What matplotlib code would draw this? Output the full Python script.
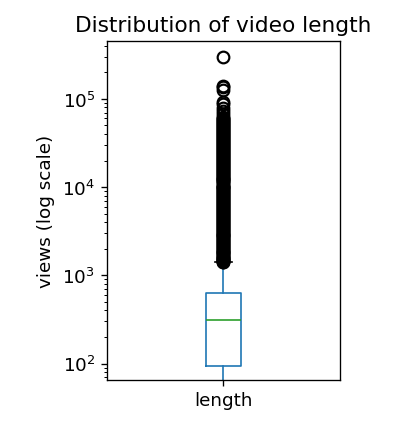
import matplotlib
matplotlib.use('Agg')
from matplotlib import pyplot as plt

# summary
q1, med, q3 = 95, 310, 630
whislo, whishi = 40, 1400
# outliers (dense column plus a few high ones)
fliers = [1400, 1430, 1450, 1480, 1500, 1530, 1560, 1590, 1620, 1660, 1700, 1740,
          1780, 1820, 1860, 1900, 1950, 2000, 2050, 2100, 2150, 2200, 2250, 2310,
          2370, 2430, 2500, 2560, 2630, 2700, 2770, 2830, 2900, 2980, 3050, 3120,
          3200, 3290, 3380, 3460, 3550, 3650, 3750, 3850, 3950, 4050, 4150, 4260,
          4380, 4490, 4600, 4720, 4850, 4970, 5100, 5240, 5380, 5510, 5650, 5800,
          5950, 6100, 6250, 6420, 6600, 6770, 6950, 7120, 7300, 7500, 7700, 7900,
          8100, 8300, 8500, 8720, 8950, 9170, 9400, 9650, 9900, 10150, 10400,
          10700, 11000, 11300, 11600, 11900, 12200, 12500, 12800, 13150, 13500,
          13850, 14200, 14600, 15000, 15400, 15800, 16200, 16600, 17050, 17500,
          17950, 18400, 18900, 19400, 19900, 20400, 20950, 21500, 22050, 22600,
          23200, 23800, 24400, 25000, 25650, 26300, 27000, 27700, 28450, 29200,
          29950, 30700, 31500, 32300, 33150, 34000, 34900, 35800, 36750, 37700,
          38700, 39700, 40750, 41800, 42900, 44000, 45150, 46300, 47500, 48700,
          50000, 51300, 52650, 54000, 55500, 57000, 58500, 60000, 63000, 67000,
          72000, 78000, 88000, 92000, 125000, 135000, 140000, 300000]

stats = [dict(med=med, q1=q1, q3=q3, whislo=whislo, whishi=whishi,
              fliers=fliers, label='length')]

fig = plt.figure(figsize=(3.45, 3.63), dpi=120)
ax = fig.add_axes([0.258, 0.126, 0.563, 0.778])
ax.bxp(stats, widths=0.15,
       boxprops=dict(color='#1f77b4'), whiskerprops=dict(color='#1f77b4'),
       capprops=dict(color='black'), medianprops=dict(color='#2ca02c'),
       flierprops=dict(marker='o', markersize=7, markerfacecolor='none',
                       markeredgecolor='black', markeredgewidth=1.3))
ax.set_xlim(0.5, 1.5)
ax.set_yscale('log')
ax.set_ylim(65, 450000)
ax.tick_params(labelsize=11)
ax.set_ylabel('views (log scale)', fontsize=11)
ax.set_title('Distribution of video length', fontsize=13)
plt.savefig('out.png')
